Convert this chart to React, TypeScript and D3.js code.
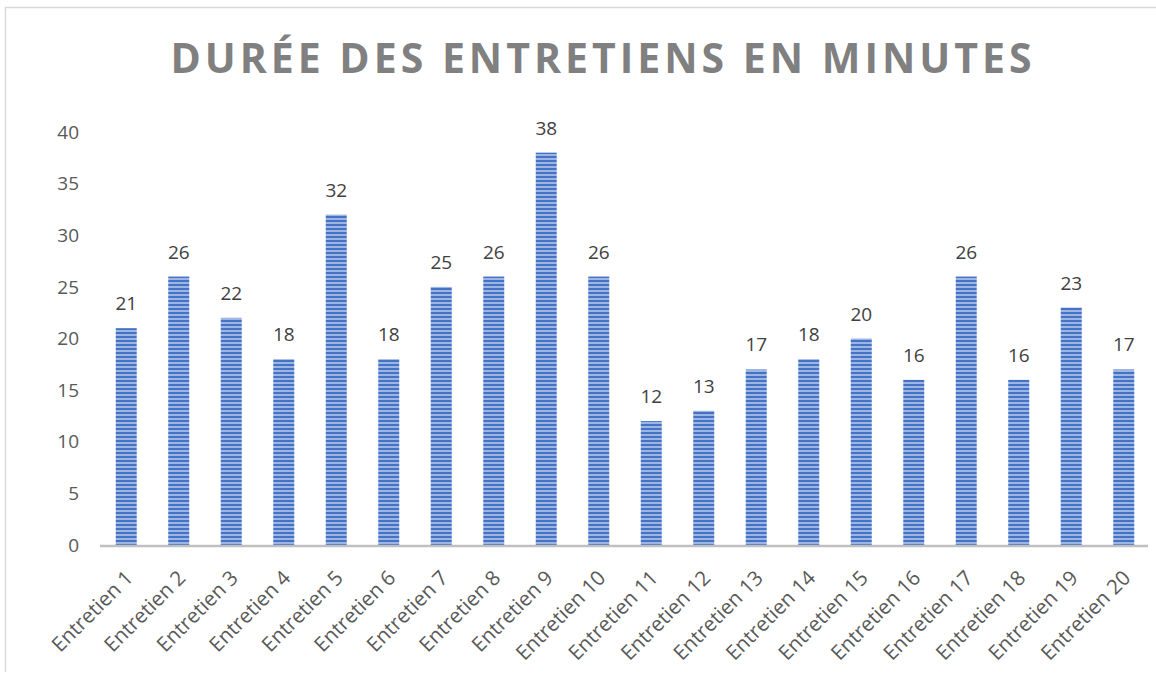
import React from 'react';
import * as d3 from 'd3';

const categories = [
  'Entretien 1', 'Entretien 2', 'Entretien 3', 'Entretien 4', 'Entretien 5',
  'Entretien 6', 'Entretien 7', 'Entretien 8', 'Entretien 9', 'Entretien 10',
  'Entretien 11', 'Entretien 12', 'Entretien 13', 'Entretien 14', 'Entretien 15',
  'Entretien 16', 'Entretien 17', 'Entretien 18', 'Entretien 19', 'Entretien 20',
];
const durations = [21, 26, 22, 18, 32, 18, 25, 26, 38, 26, 12, 13, 17, 18, 20, 16, 26, 16, 23, 17];
const yTicks = [0, 5, 10, 15, 20, 25, 30, 35, 40];

const W = 1156;
const H = 675;
const font = '"Open Sans", Lato, sans-serif';

const App: React.FC = () => {
  const x = d3.scaleBand<string>().domain(categories).range([100, 1150]).paddingInner(0.6).paddingOuter(0.3);
  const y = d3.scaleLinear().domain([0, 40]).range([545, 132]);

  return (
    <svg width={W} height={H} style={{ position: 'absolute', left: 0, top: 0, background: '#fff' }}>
      <defs>
        <pattern id="stripes" width="4" height="4" patternUnits="userSpaceOnUse">
          <rect width="4" height="4" fill="#9db5e3" />
          <rect width="4" height="2" fill="#4472c4" />
        </pattern>
      </defs>
      {/* chart frame */}
      <line x1={5.5} y1={7} x2={5.5} y2={672} stroke="#d9d9d9" strokeWidth={1.5} />
      <line x1={5} y1={7.5} x2={W} y2={7.5} stroke="#d9d9d9" strokeWidth={1.5} />

      <text x={603} y={73} textAnchor="middle" fontFamily={font} fontWeight={700} fontSize={41}
        letterSpacing={4} fill="#808080">
        DURÉE DES ENTRETIENS EN MINUTES
      </text>

      {yTicks.map((t) => (
        <text key={t} x={79} y={y(t)} dy="0.35em" textAnchor="end" fontFamily={font} fontSize={19} fill="#595959">
          {t}
        </text>
      ))}

      {categories.map((c, i) => (
        <g key={c}>
          <rect x={x(c)!} y={y(durations[i])} width={x.bandwidth()} height={y(0) - y(durations[i])}
            fill="url(#stripes)" />
          <text x={x(c)! + x.bandwidth() / 2} y={y(durations[i]) - 18} textAnchor="middle"
            fontFamily={font} fontSize={19} fill="#404040">
            {durations[i]}
          </text>
          <text transform={`translate(${x(c)! + x.bandwidth() / 2 + 3},${574}) rotate(-45)`} textAnchor="end"
            dy="0.35em" fontFamily={font} fontSize={20.5} fill="#595959">
            {c}
          </text>
        </g>
      ))}

      <line x1={100} x2={1148} y1={y(0) + 1} y2={y(0) + 1} stroke="#bfbfbf" strokeWidth={2.5} />
    </svg>
  );
};

export default App;
